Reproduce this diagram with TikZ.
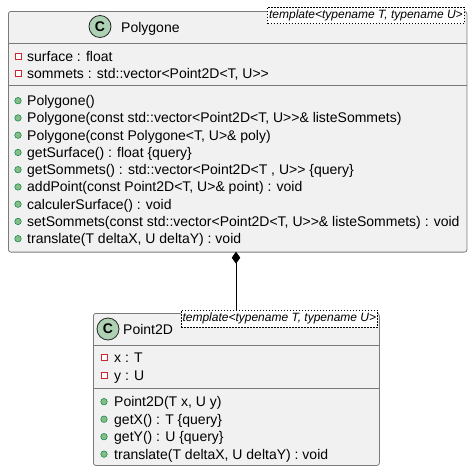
\documentclass[tikz,border=0pt]{standalone}
\usepackage{fontspec}
\setmainfont{Liberation Sans}[Ligatures=TeXOff]
\usetikzlibrary{arrows.meta}
\definecolor{boxfill}{HTML}{F1F1F1}
\definecolor{boxline}{HTML}{7A7A7A}
\definecolor{cfill}{HTML}{ADD1B2}
\definecolor{privred}{HTML}{C82930}
\definecolor{pubfill}{HTML}{84BE84}
\definecolor{publine}{HTML}{038048}
\begin{document}
\begin{tikzpicture}[x=1pt,y=-1pt,
  classbox/.style={draw=boxline, fill=boxfill, line width=0.8pt, rounded corners=2.5pt, anchor=north west, inner sep=0pt},
  sep/.style={draw=boxline, line width=0.8pt},
  member/.style={anchor=base west, inner sep=0pt, font=\fontsize{14}{16}\selectfont},
  title/.style={anchor=base west, inner sep=0pt, font=\fontsize{14}{16}\selectfont},
  priv/.style={rectangle, draw=privred, fill=white, line width=0.7pt, minimum size=6pt, inner sep=0pt},
  pub/.style={circle, draw=publine, fill=pubfill, minimum size=6.5pt, inner sep=0pt, line width=0.5pt},
  cicon/.style={circle, draw=black!85, fill=cfill, minimum size=22pt, inner sep=0pt, line width=0.8pt, font=\bfseries\fontsize{14}{16}\selectfont},
  tmpl/.style={draw=black, line width=0.6pt, dash pattern=on 1.5pt off 1.5pt, fill=white, font=\itshape\fontsize{12}{14}\selectfont, inner xsep=1.5pt, inner ysep=0pt, minimum height=16.7pt, text height=9pt, text depth=2.5pt}
]
\useasboundingbox (0,0) rectangle (476,471);

% ---------- Polygone ----------
\node[classbox, minimum width=458.5pt, minimum height=240.7pt] (poly) at (8,11) {};
\draw[sep] (8,43) -- (466.5,43);
\draw[sep] (8,85.3) -- (466.5,85.3);
\node[cicon] (polyc) at (100,26.5) {C};
\node[title] (polyt) at (121,32) {Polygone};
\node[tmpl, anchor=north west] (polytm) at (267.3,6.7) {template<typename T, typename U>};

\node[priv] (pa1i) at (18,56.3) {};
\node[member] (pa1) at (27,61.3) {surface : float};
\node[priv] (pa2i) at (18,73.3) {};
\node[member] (pa2) at (27,78.3) {sommets : std::vector<Point2D<T, U>>};

\node[pub] (pm1i) at (18,100.7) {};
\node[member] (pm1) at (27,105.7) {Polygone()};
\node[pub] (pm2i) at (18,117.95) {};
\node[member] (pm2) at (27,122.95) {Polygone(const std::vector<Point2D<T, U>>\& listeSommets)};
\node[pub] (pm3i) at (18,135.2) {};
\node[member] (pm3) at (27,140.2) {Polygone(const Polygone<T, U>\& poly)};
\node[pub] (pm4i) at (18,152.45) {};
\node[member] (pm4) at (27,157.45) {getSurface() : float \{query\}};
\node[pub] (pm5i) at (18,169.7) {};
\node[member] (pm5) at (27,174.7) {getSommets() : std::vector<Point2D<T , U>> \{query\}};
\node[pub] (pm6i) at (18,186.95) {};
\node[member] (pm6) at (27,191.95) {addPoint(const Point2D<T, U>\& point) : void};
\node[pub] (pm7i) at (18,204.2) {};
\node[member] (pm7) at (27,209.2) {calculerSurface() : void};
\node[pub] (pm8i) at (18,221.45) {};
\node[member] (pm8) at (27,226.45) {setSommets(const std::vector<Point2D<T, U>>\& listeSommets) : void};
\node[pub] (pm9i) at (18,238.7) {};
\node[member] (pm9) at (27,243.7) {translate(T deltaX, U deltaY) : void};

% ---------- Point2D ----------
\node[classbox, minimum width=286pt, minimum height=152pt] (pt) at (93,313) {};
\draw[sep] (93,345) -- (379,345);
\draw[sep] (93,388) -- (379,388);
\node[cicon] (ptc) at (108,329) {C};
\node[title] (ptt) at (123,334) {Point2D};
\node[tmpl, anchor=north west] (pttm) at (180.7,310) {template<typename T, typename U>};

\node[priv] (qa1i) at (104,357.7) {};
\node[member] (qa1) at (114,362.7) {x : T};
\node[priv] (qa2i) at (104,375.3) {};
\node[member] (qa2) at (114,380.3) {y : U};

\node[pub] (qm1i) at (104,401.7) {};
\node[member] (qm1) at (114,406.7) {Point2D(T x, U y)};
\node[pub] (qm2i) at (104,419.2) {};
\node[member] (qm2) at (114,424.2) {getX() : T \{query\}};
\node[pub] (qm3i) at (104,436.7) {};
\node[member] (qm3) at (114,441.7) {getY() : U \{query\}};
\node[pub] (qm4i) at (104,454.1) {};
\node[member] (qm4) at (114,459.1) {translate(T deltaX, U deltaY) : void};

% ---------- composition ----------
\coordinate (ca) at (236,251.7);
\coordinate (cb) at (236,310);
\draw[line width=0.9pt, {Diamond[length=12pt,width=8.5pt]}-] (ca) -- (cb);
\end{tikzpicture}
\end{document}
